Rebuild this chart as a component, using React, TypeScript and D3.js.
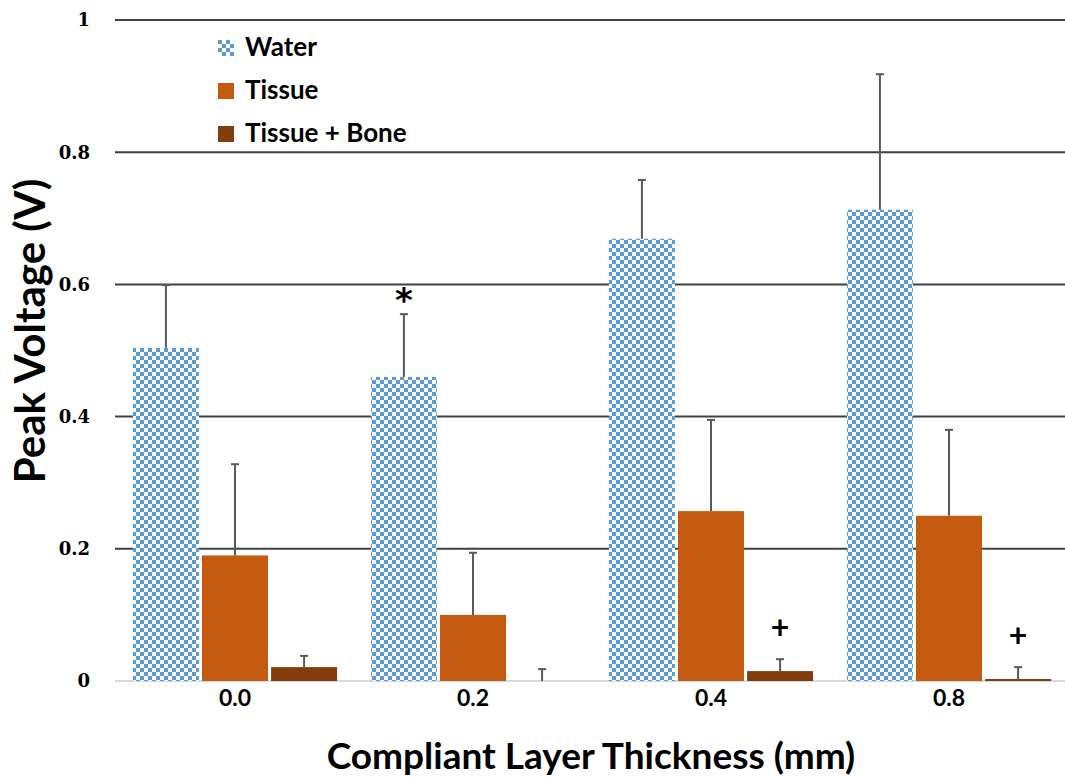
import React from "react";
import * as d3 from "d3";

// Compliant layer thickness groups
const categories = ["0.0", "0.2", "0.4", "0.8"];
const seriesNames = ["Water", "Tissue", "Tissue + Bone"];

// Mean peak voltage (V) per series, by thickness
const waterMeans = [0.504, 0.46, 0.669, 0.713];
const tissueMeans = [0.19, 0.1, 0.257, 0.25];
const boneMeans = [0.021, 0.0, 0.015, 0.003];

// Upper end of the error bar (V)
const waterUpper = [0.599, 0.555, 0.758, 0.918];
const tissueUpper = [0.328, 0.194, 0.395, 0.38];
const boneUpper = [0.038, 0.018, 0.033, 0.021];

// Significance markers: [series index, category index, symbol]
const markers: [number, number, string][] = [
  [0, 1, "*"],
  [2, 2, "+"],
  [2, 3, "+"],
];

const yTicks = [0, 0.2, 0.4, 0.6, 0.8, 1];

const W = 1065;
const H = 780;
const FONT = "Lato, 'Open Sans', sans-serif";
const TICK_FONT = "'DejaVu Serif', serif";
const colors = ["url(#checker)", "#C55A11", "#843C0C"];

export default function App() {
  const means = [waterMeans, tissueMeans, boneMeans];
  const uppers = [waterUpper, tissueUpper, boneUpper];

  const x0 = d3.scaleBand<string>().domain(categories).range([116, 1068]);
  const x1 = d3
    .scaleBand<string>()
    .domain(seriesNames)
    .range([0, x0.bandwidth()])
    .paddingInner(0.045)
    .paddingOuter(0.245);
  const y = d3.scaleLinear().domain([0, 1]).range([681, 20]);

  const gridLeft = 115;
  const gridRight = 1065;

  return (
    <svg
      width={W}
      height={H}
      style={{ position: "absolute", left: 0, top: 0, background: "#fff" }}
      fontFamily={FONT}
    >
      <defs>
        <pattern id="checker" width={8} height={8} patternUnits="userSpaceOnUse">
          <rect width={8} height={8} fill="#ffffff" />
          <rect x={0} y={0} width={4} height={4} fill="#5B9BD5" />
          <rect x={4} y={4} width={4} height={4} fill="#5B9BD5" />
        </pattern>
      </defs>

      {/* horizontal gridlines */}
      {yTicks.map((t) => (
        <line
          key={t}
          x1={gridLeft}
          x2={gridRight}
          y1={y(t)}
          y2={y(t)}
          stroke={t === 0 ? "#d9d9d9" : "#404040"}
          strokeWidth={2}
        />
      ))}

      {/* y tick labels */}
      {yTicks.map((t) => (
        <text
          key={t}
          x={90}
          y={y(t)}
          dy="0.36em"
          textAnchor="end"
          fontSize={18}
          fontWeight={700}
          fontFamily={TICK_FONT}
          fill="#000"
        >
          {t === 0 || t === 1 ? String(t) : t.toFixed(1)}
        </text>
      ))}

      {/* bars */}
      {seriesNames.map((s, si) =>
        categories.map((c, ci) => {
          const v = means[si][ci];
          const bx = (x0(c) ?? 0) + (x1(s) ?? 0);
          return (
            <rect
              key={s + c}
              x={bx}
              y={y(v)}
              width={x1.bandwidth()}
              height={Math.max(0, y(0) - y(v))}
              fill={colors[si]}
            />
          );
        })
      )}

      {/* error bars (upper only) */}
      {seriesNames.map((s, si) =>
        categories.map((c, ci) => {
          const cx = (x0(c) ?? 0) + (x1(s) ?? 0) + x1.bandwidth() / 2;
          const top = y(uppers[si][ci]);
          const base = y(means[si][ci]);
          return (
            <g key={"e" + s + c} stroke="#595959" strokeWidth={2}>
              <line x1={cx} x2={cx} y1={base} y2={top} />
              <line x1={cx - 4} x2={cx + 4} y1={top} y2={top} />
            </g>
          );
        })
      )}

      {/* significance markers */}
      {markers.map(([si, ci, sym], i) => {
        const cx =
          (x0(categories[ci]) ?? 0) + (x1(seriesNames[si]) ?? 0) + x1.bandwidth() / 2;
        const top = y(uppers[si][ci]);
        return (
          <text
            key={i}
            x={cx}
            y={top - (sym === "*" ? 2 : 20)}
            textAnchor="middle"
            fontSize={sym === "*" ? 34 : 32}
            fontWeight={700}
            fontFamily={sym === "*" ? "'DejaVu Sans', sans-serif" : FONT}
            fill="#000"
          >
            {sym}
          </text>
        );
      })}

      {/* x category labels */}
      {categories.map((c) => (
        <text
          key={c}
          x={(x0(c) ?? 0) + x0.bandwidth() / 2}
          y={706}
          textAnchor="middle"
          fontSize={23}
          fontWeight={700}
          fill="#000"
        >
          {c}
        </text>
      ))}

      {/* axis titles */}
      <text
        x={591}
        y={769}
        textAnchor="middle"
        fontSize={37}
        fontWeight={700}
        fill="#000"
      >
        Compliant Layer Thickness (mm)
      </text>
      <text
        transform={`translate(45, 331) rotate(-90)`}
        textAnchor="middle"
        fontSize={42}
        fontWeight={700}
        fill="#000"
      >
        Peak Voltage (V)
      </text>

      {/* legend */}
      {seriesNames.map((s, si) => (
        <g key={"l" + s} transform={`translate(218, ${40 + si * 43})`}>
          <rect width={16} height={16} fill={colors[si]} />
          <text x={27} y={16} fontSize={26} fontWeight={700} fill="#000">
            {s}
          </text>
        </g>
      ))}
    </svg>
  );
}
